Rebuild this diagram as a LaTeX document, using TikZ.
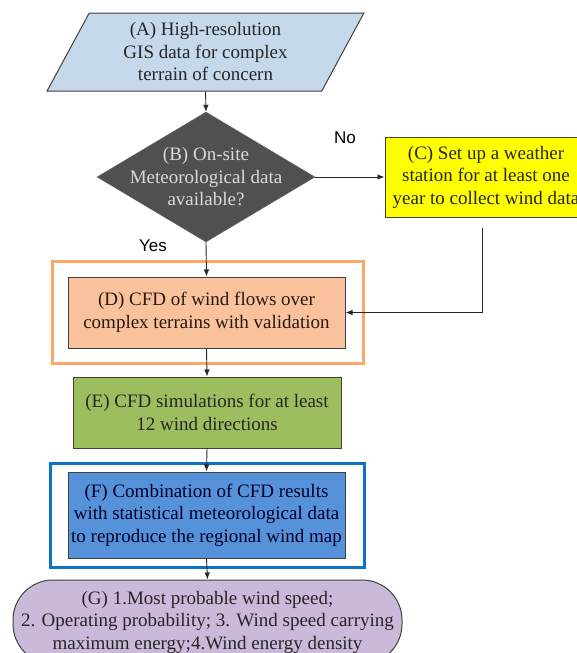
\documentclass[tikz,border=0pt]{standalone}
\usepackage{fontspec}
\setmainfont{Liberation Serif}
\newfontfamily\answerfont{Liberation Sans}
\usetikzlibrary{shapes.geometric, calc, arrows.meta}

\definecolor{gisblue}{HTML}{C5D9EA}
\definecolor{decgray}{HTML}{505050}
\definecolor{stayellow}{HTML}{FFFF00}
\definecolor{cfdpeach}{HTML}{FAC29C}
\definecolor{cfdorange}{HTML}{FFA766}
\definecolor{simgreen}{HTML}{9DBE5E}
\definecolor{mapblue}{HTML}{5592DA}
\definecolor{mapframe}{HTML}{0B74C4}
\definecolor{reslilac}{HTML}{CBB9DA}

\begin{document}
\begin{tikzpicture}[x=1pt, y=-1pt,
        every node/.style={font=\fontsize{19}{22.5}\selectfont, align=center, text=black!85},
        box/.style={draw=black!75, line width=1pt, rectangle, inner sep=0pt},
        flow/.style={draw=black!85, line width=0.9pt, -{Latex[length=7pt,width=5.5pt]}},
        frame/.style={line width=3pt},
        answer/.style={font=\answerfont\fontsize{17}{20}\selectfont, text=black}]
            \useasboundingbox (0,0) rectangle (577,653);
            \clip (0,0) rectangle (577,653);
            \node[trapezium, trapezium left angle=63, trapezium right angle=117, trapezium stretches,
                minimum width=317pt, minimum height=78pt, inner sep=0pt,
                draw=black!75, line width=1pt, fill=gisblue, text=black!85] (A) at (205.5,52)
                {(A) High-resolution\\GIS data for complex\\terrain of concern};
            \node[diamond, minimum width=218pt, minimum height=130pt, inner sep=-30pt,
                fill=decgray, draw=black!60, text=black!15] (B) at (206,177)
                {(B) On-site\\Meteorological data\\available?};
            \node[box, fill=stayellow, minimum width=202pt, minimum height=80pt] (C) at (486,177)
                {(C) Set up a weather\\station for at least one\\year to collect wind data};
            \node[box, fill=cfdpeach, minimum width=277pt, minimum height=71pt, text=black!80!brown] (D) at (206.5,312.5)
                {(D) CFD of wind flows over\\complex terrains with validation};
            \node[box, fill=simgreen, minimum width=268pt, minimum height=71pt] (E) at (207,412.5)
                {(E) CFD simulations for at least\\12 wind directions};
            \node[box, fill=mapblue, minimum width=277pt, minimum height=86pt, text=black!85!blue] (F) at (206.5,515)
                {(F) Combination of CFD results\\with statistical meteorological data\\to reproduce the regional wind map};
            \node[box, fill=reslilac, rounded corners=40pt, minimum width=389pt, minimum height=84pt] (G) at (207.5,622)
                {(G) 1.Most probable wind speed;\\2. Operating probability; 3. Wind speed carrying\\maximum energy;4.Wind energy density};
            \node[answer] (no) at (345,138) {No};
            \node[answer] (yes) at (153,246) {Yes};
            \draw[frame, draw=cfdorange] ($(D.north west)+(-15,-15)$) rectangle ($(D.south east)+(18,15)$);
            \draw[frame, line width=3.5pt, draw=mapframe] ($(F.north west)+(-17,-8)$) rectangle ($(F.south east)+(19,9)$);
            \coordinate (Cout) at ([xshift=-4pt, yshift=-10pt]C.south);
            \draw[flow] (A.south) -- (B.north);
            \draw[flow] (B.east) -- (C.west);
            \draw[flow] (B.south) -- (D.north);
            \draw[flow] (Cout) |- (D.east);
            \draw[flow] (D.south) -- (E.north);
            \draw[flow] (E.south) -- (F.north);
            \draw[flow] (F.south) -- (G.north);
        \end{tikzpicture}
\end{document}
